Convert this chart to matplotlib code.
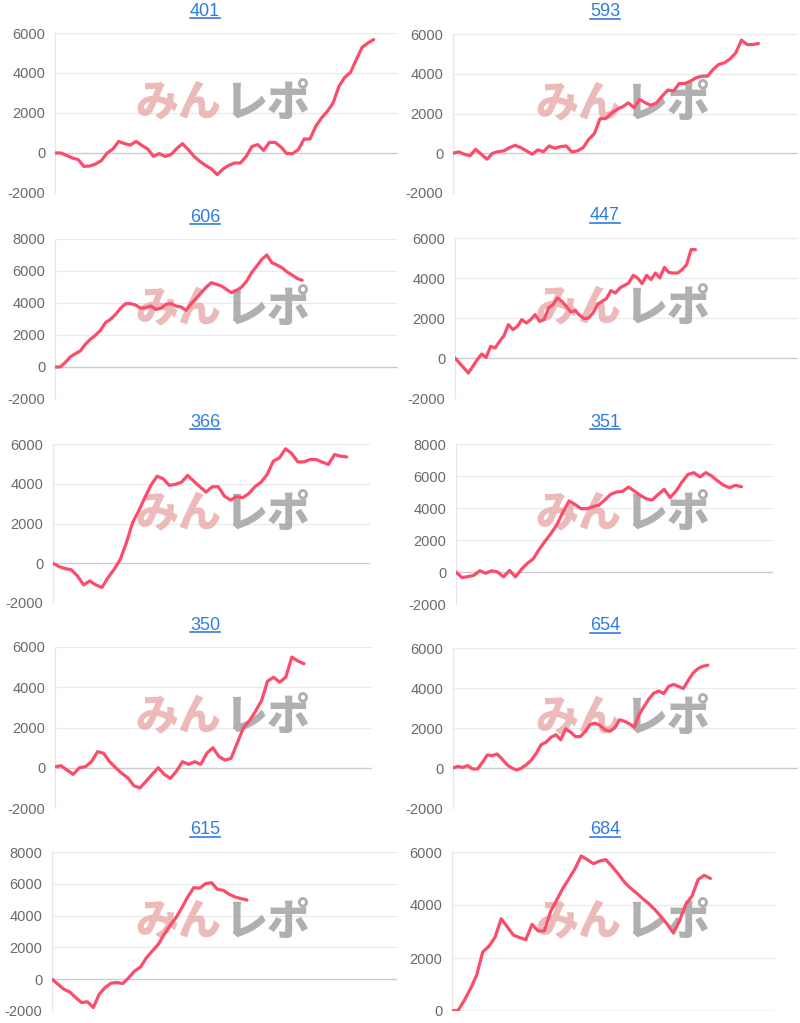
import numpy as np
import matplotlib
matplotlib.use("Agg")
import matplotlib.pyplot as plt
from matplotlib.lines import Line2D

plt.rcParams["axes.unicode_minus"] = False

# cumulative values (one value per day)
v401 = [0, 0, -120, -250, -330, -670, -650, -550, -380, 0, 200, 580, 470, 400, 580, 380,
        200, -170, -30, -170, -80, 220, 470, 170, -170, -420, -620, -800, -1080, -800,
        -620, -500, -500, -170, 330, 420, 130, 530, 530, 300, -30, -30, 170, 700, 700,
        1330, 1750, 2080, 2500, 3330, 3780, 4030, 4670, 5280, 5500, 5670]
v593 = [0, 70, -50, -130, 200, -50, -300, 0, 80, 120, 280, 400, 280, 120, -50, 170, 80,
        370, 250, 330, 370, 70, 120, 280, 700, 990, 1740, 1740, 2010, 2210, 2340, 2540,
        2290, 2710, 2540, 2410, 2540, 2880, 3180, 3130, 3510, 3510, 3630, 3800, 3880,
        3880, 4220, 4470, 4550, 4750, 5050, 5690, 5470, 5470, 5520]
v606 = [0, 0, 270, 625, 830, 1000, 1420, 1730, 1980, 2290, 2770, 2980, 3290, 3670, 3960,
        3960, 3870, 3670, 3710, 3810, 3600, 3670, 3920, 3960, 3810, 3750, 3540, 3960,
        4290, 4650, 5000, 5270, 5170, 5060, 4850, 4650, 4790, 5000, 5375, 5900, 6310,
        6730, 7000, 6520, 6375, 6210, 5940, 5750, 5540, 5420]
v447 = [0, -250, -500, -750, -420, -80, 200, 30, 580, 500, 830, 1120, 1670, 1420, 1580,
        1920, 1750, 1920, 2170, 1830, 1920, 2500, 2670, 3000, 2830, 2580, 2300, 2370,
        2130, 1970, 2000, 2250, 2670, 2830, 2970, 3370, 3250, 3500, 3630, 3750, 4130,
        4000, 3720, 4130, 3920, 4250, 4000, 4530, 4280, 4250, 4250, 4420, 4670, 5420, 5420]
v366 = [0, -170, -270, -330, -640, -1090, -890, -1090, -1220, -720, -300, 200, 1040, 2040,
        2630, 3300, 3920, 4380, 4250, 3920, 3970, 4080, 4420, 4130, 3850, 3580, 3850,
        3850, 3380, 3180, 3350, 3300, 3510, 3850, 4080, 4470, 5140, 5300, 5760, 5520,
        5100, 5100, 5220, 5220, 5090, 4970, 5470, 5390, 5350]
v351 = [0, -350, -290, -210, 80, -80, 80, 0, -310, 100, -310, 170, 540, 830, 1420, 1940,
        2420, 2980, 3750, 4440, 4230, 3960, 3960, 4080, 4170, 4500, 4850, 5000, 5040,
        5310, 5060, 4790, 4580, 4500, 4850, 5170, 4650, 5060, 5625, 6100, 6210, 5940,
        6210, 6000, 5690, 5420, 5270, 5420, 5330]
v350 = [50, 100, -120, -330, 0, 50, 300, 800, 720, 300, 0, -280, -500, -900, -1000, -670,
        -330, 0, -330, -530, -170, 300, 170, 300, 170, 720, 1000, 550, 380, 470, 1220,
        1970, 2330, 2800, 3330, 4300, 4500, 4250, 4500, 5500, 5300, 5170]
v654 = [0, 80, 30, 120, -50, -50, 280, 650, 620, 700, 450, 170, 0, -100, 0, 170, 400, 740,
        1170, 1290, 1540, 1660, 1410, 1960, 1790, 1570, 1570, 1840, 2180, 2240, 2130,
        1910, 1840, 2010, 2410, 2340, 2210, 2040, 2680, 3080, 3460, 3750, 3850, 3720,
        4080, 4180, 4080, 3970, 4380, 4750, 4970, 5090, 5140]
v615 = [0, -310, -630, -800, -1150, -1470, -1420, -1780, -940, -520, -250, -210, -270,
        100, 520, 770, 1360, 1780, 2200, 2830, 3390, 3870, 4500, 5190, 5760, 5720, 6010,
        6070, 5650, 5590, 5340, 5170, 5070, 4980]
v684 = [0, 25, 400, 840, 1350, 2230, 2440, 2790, 3480, 3170, 2860, 2770, 2690, 3270, 3020,
        3020, 3740, 4180, 4620, 4990, 5370, 5850, 5710, 5560, 5660, 5710, 5460, 5180,
        4870, 4640, 4450, 4240, 4050, 3820, 3550, 3270, 2940, 3420, 4030, 4330, 4960,
        5120, 5000]

titles = ["401", "593", "606", "447", "366", "351", "350", "654", "615", "684"]
series = [v401, v593, v606, v447, v366, v351, v350, v654, v615, v684]
x_slots = [59.2, 61, 68, 77, 51.8, 53.3, 52.2, 70.4, 58.4, 52.5]
y_ranges = [(-2000, 6000), (-2000, 6000), (-2000, 8000), (-2000, 6000), (-2000, 6000),
            (-2000, 8000), (-2000, 6000), (-2000, 6000), (-2000, 8000), (0, 6000)]

# plot boxes in pixels: left, right, top, bottom
boxes = [(55, 398, 33, 193), (453, 798, 34, 193),
         (55, 398, 239, 399), (455, 798, 238, 398),
         (53, 370, 444, 603), (456, 773, 444, 604),
         (55, 372, 647, 808), (453, 798, 648, 808),
         (52, 397, 852, 1011), (452, 775, 852, 1011)]

W, H = 800, 1023
fig = plt.figure(figsize=(W / 100, H / 100), dpi=100)
fig.patch.set_facecolor("white")

line_col = "#fb4d6b"
title_col = "#2f7de1"
tick_col = "#6a6a6a"
cjk = ["Noto Sans CJK JP", "DejaVu Sans"]

titles_txt = []
for i in range(10):
    l, r, t, b = boxes[i]
    ax = fig.add_axes([l / W, 1 - b / H, (r - l) / W, (b - t) / H])
    ymin, ymax = y_ranges[i]
    ax.set_ylim(ymin, ymax)
    ax.set_xlim(0, x_slots[i])
    ax.set_yticks(np.arange(ymin, ymax + 1, 2000))
    ax.set_xticks([])
    for yy in np.arange(ymin, ymax + 1, 2000):
        ax.axhline(yy, color="#cccccc" if yy == 0 else "#ebebeb", lw=1.0 if yy == 0 else 0.9, zorder=1)
    for s in ["top", "right", "bottom"]:
        ax.spines[s].set_visible(False)
    ax.spines["left"].set_color("#e6e6e6")
    ax.spines["left"].set_linewidth(0.9)
    ax.tick_params(axis="y", length=0, pad=7, labelsize=10.5, labelcolor=tick_col)
    for lab in ax.get_yticklabels():
        lab.set_fontfamily("Liberation Sans")

    vals = series[i]
    ax.plot(np.arange(len(vals)), vals, color=line_col, lw=2.3, zorder=4,
            solid_joinstyle="round", solid_capstyle="round")

    # watermark, drawn inside the axes so the line stays on top
    col0 = 0 if l < 400 else 400
    wx = (col0 + 222) / W
    wy = 1 - (t + 70) / H
    ax.text(wx - 0.001, wy, "みん", ha="right", va="center", fontsize=31, fontweight="heavy",
            color="#e9a9a9", alpha=0.8, family=cjk, zorder=2,
            transform=fig.transFigure, clip_on=False)
    ax.text(wx + 0.003, wy, "レポ", ha="left", va="center", fontsize=31, fontweight="heavy",
            color="#a3a3a3", alpha=0.85, family=cjk, zorder=2,
            transform=fig.transFigure, clip_on=False)

    tx = (col0 + 205) / W
    ty = 1 - (t - 22) / H
    tt = fig.text(tx, ty, titles[i], ha="center", va="center", fontsize=13,
                  color=title_col, family="Liberation Sans")
    titles_txt.append(tt)

# underline the titles like links
fig.canvas.draw()
rend = fig.canvas.get_renderer()
for tt in titles_txt:
    bb = tt.get_window_extent(renderer=rend)
    yline = (bb.y0 + 1.5) / H
    fig.add_artist(Line2D([bb.x0 / W, bb.x1 / W], [yline, yline], color=title_col, lw=1.2))

fig.savefig("out.png", dpi=100)
